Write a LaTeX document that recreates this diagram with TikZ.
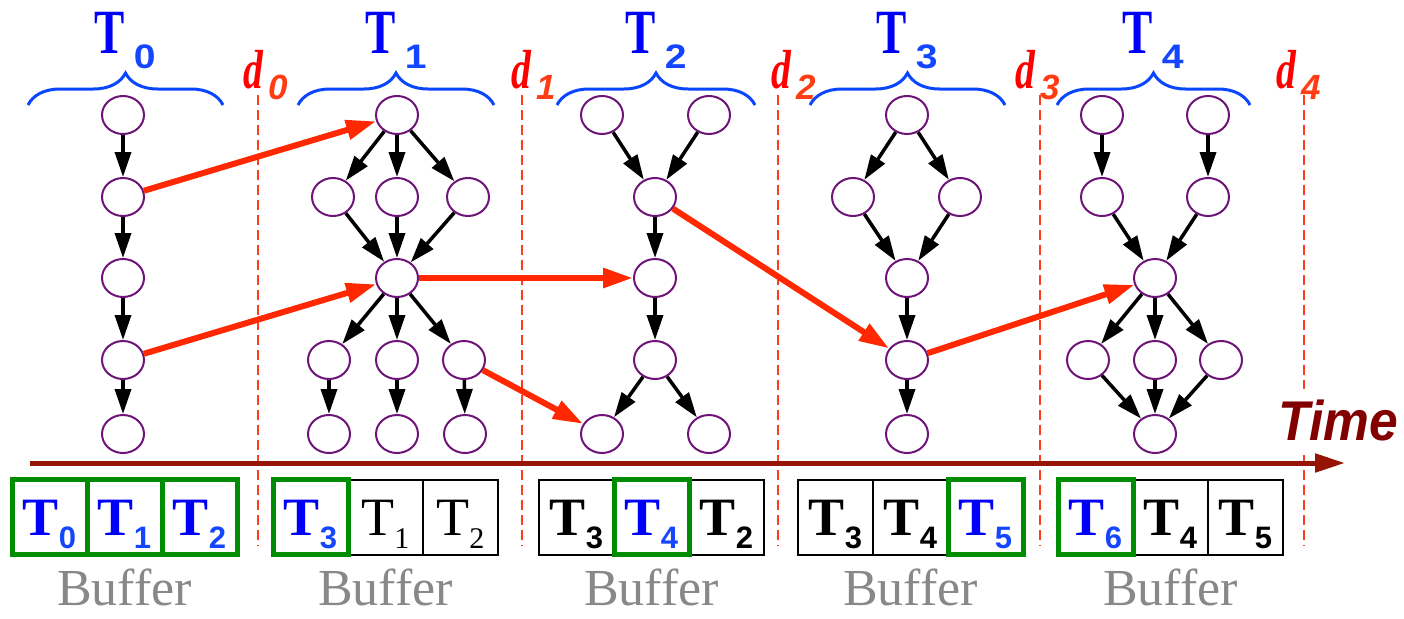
\documentclass[tikz,border=0pt]{standalone}
\usepackage{fontspec}
\setmainfont{Liberation Serif}[BoldFont={Liberation Serif Bold},ItalicFont={Liberation Serif Italic},BoldItalicFont={Liberation Serif Bold Italic}]
\setsansfont{Liberation Sans}[BoldFont={Liberation Sans Bold},ItalicFont={Liberation Sans Italic},BoldItalicFont={Liberation Sans Bold Italic}]
\usepackage{graphicx}
\usepackage{xcolor}
\usetikzlibrary{arrows.meta,shapes.geometric,decorations.pathreplacing,positioning}
\definecolor{tblue}{RGB}{0,0,250}
\definecolor{sblue}{RGB}{20,70,255}
\definecolor{braceblue}{RGB}{10,70,255}
\definecolor{dred}{RGB}{255,0,0}
\definecolor{dsub}{RGB}{255,60,20}
\definecolor{deadred}{RGB}{255,60,30}
\definecolor{jobpurple}{RGB}{110,20,120}
\definecolor{xred}{RGB}{255,40,0}
\definecolor{timered}{RGB}{150,20,5}
\definecolor{timetext}{RGB}{130,0,0}
\definecolor{slotgreen}{RGB}{0,140,0}
\definecolor{bufgray}{RGB}{136,136,136}
% task name over a brace, deadline name, buffer entries
\newcommand{\headT}[1]{\textcolor{tblue}{\scalebox{0.72}[1]{\fontsize{63}{63}\selectfont\rmfamily\bfseries T}}\kern9pt\raisebox{-15pt}{\textcolor{sblue}{\scalebox{1.15}[1]{\fontsize{34}{34}\selectfont\sffamily\bfseries #1}}}}
\newcommand{\dlab}[1]{\textcolor{dred}{\scalebox{0.72}[1]{\fontsize{55}{55}\selectfont\rmfamily\bfseries\itshape d}}\kern5pt\raisebox{-12pt}{\textcolor{dsub}{\fontsize{35}{35}\selectfont\sffamily\bfseries\itshape #1}}}
\newcommand{\bufT}[3]{{\color{#1}\fontsize{54}{54}\selectfont\rmfamily\bfseries T}\kern0pt\raisebox{-13pt}{\color{#2}\fontsize{31}{31}\selectfont\sffamily\bfseries #3}}
\newcommand{\bufR}[1]{{\fontsize{54}{54}\selectfont T}\kern0pt\raisebox{-13pt}{\fontsize{30}{30}\selectfont #1}}

\begin{document}
\begin{tikzpicture}[x=1pt,y=-1pt,
  job/.style={ellipse,draw=jobpurple,line width=2pt,fill=white,minimum width=42pt,minimum height=38pt,inner sep=0pt},
  dep/.style={-{Triangle[length=25pt,width=16pt]},line width=3.5pt},
  xdep/.style={-{Triangle[length=30pt,width=19pt]},line width=6pt,xred},
  deadline/.style={deadred,line width=2pt,dash pattern=on 10pt off 5pt},
  tbrace/.style={braceblue,line width=3pt,decorate,decoration={brace,amplitude=32pt}},
  slot/.style={draw,line width=2pt,minimum width=75pt,minimum height=75pt,inner sep=0pt,outer sep=0pt,text height=36pt,text depth=0pt},
  hot/.style={slot,draw=slotgreen,line width=5pt},
  buflab/.style={anchor=base,bufgray,inner sep=0pt,text depth=0pt,font=\fontsize{52}{52}\selectfont}]
\useasboundingbox (0,0) rectangle (1404,618);
% deadlines
\foreach \x in {258,522,778,1040,1304} \draw[deadline] (\x,95)--(\x,546);
\node[anchor=base west] (dl0) at (240,88) {\dlab{0}};
\node[anchor=base west] (dl1) at (508,88) {\dlab{1}};
\node[anchor=base west] (dl2) at (768,88) {\dlab{2}};
\node[anchor=base west] (dl3) at (1012,88) {\dlab{3}};
\node[anchor=base west] (dl4) at (1273,88) {\dlab{4}};
% braces and task names
\draw[tbrace] (28,105)--(223,105); \node[anchor=base] (hd0) at (125,53) {\headT{0}};
\draw[tbrace] (298,105)--(494,105); \node[anchor=base] (hd1) at (396,53) {\headT{1}};
\draw[tbrace] (557,105)--(755,105); \node[anchor=base] (hd2) at (656,53) {\headT{2}};
\draw[tbrace] (810,105)--(1005,105); \node[anchor=base] (hd3) at (907,53) {\headT{3}};
\draw[tbrace] (1057,105)--(1250,105); \node[anchor=base] (hd4) at (1153,53) {\headT{4}};
% T0
\node[job] (t0a) at (123,115) {}; \node[job] (t0b) at (123,197) {}; \node[job] (t0c) at (123,278) {};
\node[job] (t0d) at (123,360) {}; \node[job] (t0e) at (123,434) {};
% T1
\node[job] (t1a) at (397,115) {};
\node[job] (t1b) at (333,197) {}; \node[job] (t1c) at (397,197) {}; \node[job] (t1d) at (468,197) {};
\node[job] (t1e) at (397,278) {};
\node[job] (t1f) at (329,360) {}; \node[job] (t1g) at (397,360) {}; \node[job] (t1h) at (464,360) {};
\node[job] (t1i) at (329,434) {}; \node[job] (t1j) at (397,434) {}; \node[job] (t1k) at (465,434) {};
% T2
\node[job] (t2a) at (602,115) {}; \node[job] (t2b) at (709,115) {};
\node[job] (t2c) at (655,197) {}; \node[job] (t2d) at (655,278) {}; \node[job] (t2e) at (655,360) {};
\node[job] (t2f) at (602,434) {}; \node[job] (t2g) at (709,434) {};
% T3
\node[job] (t3a) at (907,115) {};
\node[job] (t3b) at (853,197) {}; \node[job] (t3c) at (960,197) {};
\node[job] (t3d) at (907,278) {}; \node[job] (t3e) at (907,360) {}; \node[job] (t3f) at (907,434) {};
% T4
\node[job] (t4a) at (1102,115) {}; \node[job] (t4b) at (1208,115) {};
\node[job] (t4c) at (1102,197) {}; \node[job] (t4d) at (1208,197) {};
\node[job] (t4e) at (1155,278) {};
\node[job] (t4f) at (1088,360) {}; \node[job] (t4g) at (1155,360) {}; \node[job] (t4h) at (1221,360) {};
\node[job] (t4i) at (1155,434) {};
% precedence inside the tasks
\foreach \u/\v in {t0a/t0b,t0b/t0c,t0c/t0d,t0d/t0e,
  t1a/t1b,t1a/t1c,t1a/t1d,t1b/t1e,t1c/t1e,t1d/t1e,t1e/t1f,t1e/t1g,t1e/t1h,t1f/t1i,t1g/t1j,t1h/t1k,
  t2a/t2c,t2b/t2c,t2c/t2d,t2d/t2e,t2e/t2f,t2e/t2g,
  t3a/t3b,t3a/t3c,t3b/t3d,t3c/t3d,t3d/t3e,t3e/t3f,
  t4a/t4c,t4b/t4d,t4c/t4e,t4d/t4e,t4e/t4f,t4e/t4g,t4e/t4h,t4f/t4i,t4g/t4i,t4h/t4i}
  \draw[dep] (\u)--(\v);
% dependencies across tasks
\foreach \u/\v in {t0b/t1a,t0d/t1e,t1e/t2d,t1h/t2f,t2c/t3e,t3e/t4e}
  \draw[xdep] (\u)--(\v);
% time axis
\coordinate (tstart) at (30,463); \coordinate (tend) at (1345,463);
\draw[timered,line width=5pt,-{Triangle[length=30pt,width=18pt]}] (tstart)--(tend);
\node[anchor=base east,fill=white,inner sep=10pt,text=timetext,font=\fontsize{56}{56}\selectfont\sffamily\bfseries\itshape] (time) at (1408,440) {\scalebox{0.92}[1]{Time}};
% buffers
\node[hot] (b0a) at (49.5,517) {\bufT{tblue}{sblue}{0}};
\node[hot] (b0b) at (124.5,517) {\bufT{tblue}{sblue}{1}};
\node[hot] (b0c) at (199.5,517) {\bufT{tblue}{sblue}{2}};
\node[slot] (b1b) at (385.5,517) {\bufR{1}};
\node[slot] (b1c) at (460.5,517) {\bufR{2}};
\node[hot] (b1a) at (310.5,517) {\bufT{tblue}{sblue}{3}};
\node[slot] (b2a) at (576.5,517) {\bufT{black}{black}{3}};
\node[slot] (b2c) at (726.5,517) {\bufT{black}{black}{2}};
\node[hot] (b2b) at (651.5,517) {\bufT{tblue}{sblue}{4}};
\node[slot] (b3a) at (835.5,517) {\bufT{black}{black}{3}};
\node[slot] (b3b) at (910.5,517) {\bufT{black}{black}{4}};
\node[hot] (b3c) at (985.5,517) {\bufT{tblue}{sblue}{5}};
\node[slot] (b4b) at (1170.5,517) {\bufT{black}{black}{4}};
\node[slot] (b4c) at (1245.5,517) {\bufT{black}{black}{5}};
\node[hot] (b4a) at (1095.5,517) {\bufT{tblue}{sblue}{6}};
\foreach \x [count=\k from 0] in {124.5,385.5,651.5,910.5,1170.5}
  \node[buflab] (buf\k) at (\x,605) {Buffer};
\end{tikzpicture}
\end{document}
